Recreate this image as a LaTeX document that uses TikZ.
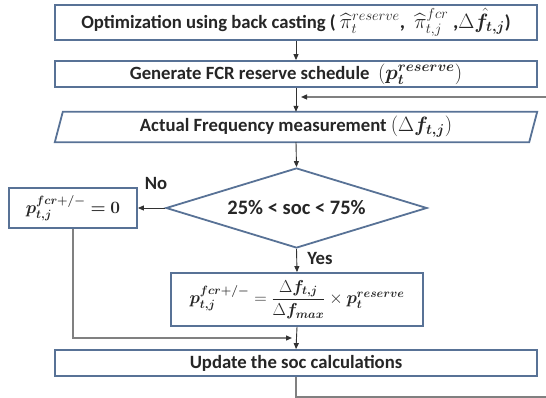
\documentclass[tikz,border=0pt]{standalone}
\usepackage{amsmath}
\usepackage{bm}
\usepackage{fontspec}
\setmainfont{Carlito}
\usetikzlibrary{arrows.meta,shapes.geometric,calc}
\definecolor{boxblue}{RGB}{88,114,150}
\definecolor{txt}{RGB}{38,38,38}
\definecolor{arr}{RGB}{50,50,50}
\definecolor{fbgray}{RGB}{128,128,128}
\newcommand{\bigmath}[1]{{\fontsize{20.5}{22}\selectfont #1}}
\tikzset{
  base/.style={inner sep=0pt, font=\bfseries\fontsize{18.7}{21}\selectfont, text=txt},
  box/.style={base, draw=boxblue, line width=1.8pt, fill=white},
  outline/.style={draw=boxblue, line width=1.8pt},
  dia/.style={base, diamond, shape aspect=3.3, draw=boxblue, line width=1.8pt, fill=white},
  tip/.style={-{Triangle[length=6pt,width=5pt,color=arr]}},
  arrow/.style={draw=arr, line width=0.9pt, tip},
  fbline/.style={draw=fbgray, line width=1.2pt},
  lbl/.style={base},
}
\begin{document}
\begin{tikzpicture}[x=1pt,y=-1pt]
\useasboundingbox (0,0) rectangle (546,398);
\node[box, minimum width=482pt, minimum height=35pt] (opt) at (296,22.5)
  {Optimization using back casting ( \bigmath{$\widehat{\pi}_t^{reserve}$,\ \ $\widehat{\pi}_{t,j}^{fcr}$\ ,$\Delta\hat{\bm f}_{\bm{t,j}}$})};
\node[box, minimum width=482pt, minimum height=26pt] (gen) at (296,74)
  {Generate FCR reserve schedule\ \ \bigmath{$(\bm{p}_{\bm t}^{\bm{reserve}})$}};
\node[base, minimum width=474pt, minimum height=30pt] (meas) at (296,127)
  {Actual Frequency measurement \bigmath{$(\Delta\bm{f}_{\bm{t,j}})$}};
\draw[outline] ($(meas.north west)+(4,0)$) -- ($(meas.north east)+(4,0)$)
  -- ($(meas.south east)+(-4,0)$) -- ($(meas.south west)+(-4,0)$) -- cycle;
\node[dia, minimum width=261pt, minimum height=80pt, font=\bfseries\fontsize{20.5}{22}\selectfont] (dec) at (296.5,208) {25\% < soc < 75\%};
\node[box, minimum width=128pt, minimum height=40pt, font=\fontsize{18}{20}\selectfont] (zero) at (73,208)
  {$\bm{p_{t,j}^{fcr+/-} = 0}$};
\node[box, minimum width=252pt, minimum height=53pt, font=\fontsize{18.5}{20}\selectfont] (calc) at (297,299.5)
  {$\bm{p_{t,j}^{fcr+/-}} = \dfrac{\Delta \bm{f_{t,j}}}{\Delta \bm{f_{max}}} \times \bm{p_t^{reserve}}$};
\node[box, minimum width=482pt, minimum height=26pt] (upd) at (296,363)
  {Update the soc calculations};
\node[lbl] (no) at (156,184) {No};
\node[lbl] (yes) at (320,259) {Yes};
\coordinate (fbin) at (546,97);
\coordinate (fbend) at (301,97);
\coordinate (join) at (292,338);
\coordinate (fbout) at (546,397);
\draw[arrow] (opt) -- (gen);
\draw[arrow] (gen) -- (meas.north);
\draw[fbline, tip] (fbin) -- (fbend);
\draw[arrow] (meas.south) -- (dec.north);
\draw[arrow] (dec.west) -- (zero.east);
\draw[arrow] (dec.south) -- (calc.north);
\draw[arrow] (calc.south) -- (upd.north);
\draw[fbline, tip] (zero.south) |- (join);
\draw[fbline] (upd.south) |- (fbout);
\end{tikzpicture}
\end{document}
